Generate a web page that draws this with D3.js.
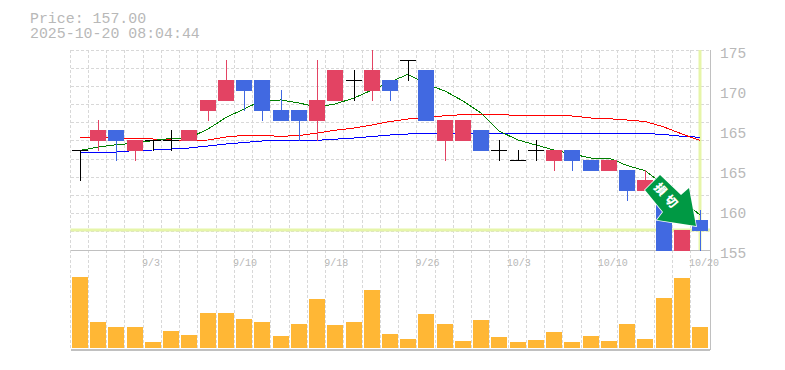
<!DOCTYPE html>
<html>
<head>
<meta charset="utf-8">
<script src="https://cdn.jsdelivr.net/npm/d3@7"></script>
<style>
  html, body { margin: 0; padding: 0; background: #fff; }
  svg { display: block; }
  text { font-family: "Liberation Mono", monospace; fill: #b8b8b8; }
</style>
</head>
<body>
<div class="chart"></div>
<script>
const WIDTH = 785
const HEIGHT = 370

const dates = ['8/28','8/29','9/1','9/2','9/3','9/4','9/5','9/8','9/9','9/10','9/11','9/12','9/16','9/17','9/18','9/19','9/22','9/24','9/25','9/26','9/29','9/30','10/1','10/2','10/3','10/6','10/7','10/8','10/9','10/10','10/14','10/15','10/16','10/17','10/20']
const dateTicks = ['9/3','9/10','9/18','9/26','10/3','10/10','10/20']

const opens  = [165,166,167,165,166,166,166,169,170,172,172,169,169,168,170,172,171,172,174,173,166,166,167,165,164,165,164,165,164,163,163,161,161,155,158]
const closes = [165,167,166,166,166,166,167,170,172,171,169,168,168,170,173,172,173,171,174,168,168,168,165,165,164,165,165,164,163,164,161,162,155,157,157]
const highs  = [165,168,167,166,166,167,167,170,174,172,172,171,169,174,173,173,175,172,174,173,168,168,167,166,165,166,165,165,164,164,163,163,161,157,159]
const lows   = [162,165,164,164,165,165,166,168,170,169,168,168,166,166,170,170,170,170,172,168,164,166,165,164,164,164,163,163,163,163,160,161,155,155,155]

const volumes = [71,26,21,21,6,17,13,35,35,29,26,12,24,49,23,26,58,14,9,34,24,7,28,11,6,8,16,6,12,7,24,9,50,70,21]

const maShort = [164.95,165.3,165.53,165.67,165.95,166.15,166.2,167.1,168.25,169.1,169.95,170,169.7,169.3,169.6,170.2,171,171.8,172.57,171.6,170.9,169.9,168.7,166.9,166,165.5,165,164.6,164.2,164.2,163.45,162.93,161.5,160,158.5]
const maMid   = [166.25,166.25,166.2,166.2,166.1,166,165.95,166,166.3,166.47,166.45,166.37,166.45,166.7,166.97,167.2,167.5,167.85,168.1,168.25,168.43,168.53,168.53,168.53,168.47,168.47,168.47,168.4,168.2,168.13,168,167.85,167.3,166.6,165.95]
const maLong  = [164.8,164.8,164.8,164.95,165,165.1,165.2,165.4,165.6,165.75,165.9,165.96,165.97,165.97,166.08,166.2,166.35,166.5,166.6,166.67,166.67,166.67,166.67,166.67,166.67,166.67,166.67,166.67,166.67,166.67,166.67,166.65,166.55,166.37,166.27]

const priceTicks = [155,159,163,167,171,175]
const priceLabels = ['155','160','165','165','170','175']
const lastPrice = 157
const titleLines = ['Price: 157.00','2025-10-20 08:04:44']
const signalLabel = '損切'

const PLOT = { left: 70.5, right: 710, top: 50, bottom: 250, volBottom: 350 }
const STEP = 18.235
const GRID_X = 35
const GRID_Y = 11
const UP = '#e34363'
const DOWN = '#4169e1'
const HILITE = '#e6f5a9'

const svg = d3.select('.chart')
  .append('svg')
  .attr('width', WIDTH)
  .attr('height', HEIGHT)

const x = d3.scaleBand()
  .domain(dates)
  .range([70.88, 70.88 + STEP * dates.length])
const y = d3.scaleLinear().domain([155, 175]).range([PLOT.bottom, PLOT.top])
const yVol = d3.scaleLinear().domain([0, 71]).range([348, 277])
const cx = d => Math.round(x(d) + x.bandwidth() / 2)

//** grid **//
const grid = svg.append('g')
  .attr('stroke', '#d8d8d8')
  .attr('stroke-dasharray', '3 2')
  .attr('shape-rendering', 'crispEdges')

const gridX = i => Math.floor(70 + i * 18.25) + 0.5
const gridY = i => Math.floor(PLOT.top + i * (PLOT.bottom - PLOT.top) / GRID_Y) + 0.5

grid.selectAll('.gv')
  .data(d3.range(GRID_X))
  .enter().append('line')
  .attr('x1', gridX)
  .attr('x2', gridX)
  .attr('y1', PLOT.top)
  .attr('y2', PLOT.volBottom)

grid.selectAll('.gh')
  .data(d3.range(GRID_Y))
  .enter().append('line')
  .attr('x1', PLOT.left)
  .attr('x2', PLOT.right)
  .attr('y1', gridY)
  .attr('y2', gridY)

//** current price / last day highlight **//
svg.append('line')
  .attr('x1', PLOT.left).attr('x2', PLOT.right)
  .attr('y1', y(lastPrice)).attr('y2', y(lastPrice))
  .attr('stroke', HILITE).attr('stroke-width', 3)
svg.append('line')
  .attr('x1', cx(dates[34])).attr('x2', cx(dates[34]))
  .attr('y1', PLOT.top).attr('y2', PLOT.bottom)
  .attr('stroke', HILITE).attr('stroke-width', 3)

//** frame **//
const frame = svg.append('g').attr('stroke', '#c0c0c0').attr('shape-rendering', 'crispEdges')
frame.append('line').attr('x1', PLOT.left).attr('x2', PLOT.right).attr('y1', PLOT.bottom).attr('y2', PLOT.bottom)
frame.append('line').attr('x1', PLOT.left).attr('x2', PLOT.right).attr('y1', PLOT.volBottom).attr('y2', PLOT.volBottom).attr('stroke-width', 2)
frame.append('line').attr('x1', PLOT.right).attr('x2', PLOT.right).attr('y1', PLOT.top).attr('y2', PLOT.volBottom)

//** moving averages **//
const line = d3.line()
  .x((d, i) => cx(dates[i]))
  .y(d => y(d))

const drawMa = (values, color) =>
  svg.append('path')
    .datum(values)
    .attr('d', line)
    .attr('fill', 'none')
    .attr('stroke', color)
    .attr('shape-rendering', 'crispEdges')

drawMa(maLong, '#0000ff')
drawMa(maMid, '#ff0000')
drawMa(maShort, '#008000')

//** candles **//
const colorOf = i => closes[i] > opens[i] ? UP : closes[i] < opens[i] ? DOWN : '#000000'

const candles = svg.append('g')
  .attr('shape-rendering', 'crispEdges')
  .selectAll('g')
  .data(dates)
  .enter().append('g')

candles.append('line')
  .attr('x1', d => cx(d) + 0.5)
  .attr('x2', d => cx(d) + 0.5)
  .attr('y1', (d, i) => y(highs[i]))
  .attr('y2', (d, i) => y(lows[i]) + 1)
  .attr('stroke', (d, i) => colorOf(i))

candles.append('rect')
  .attr('x', d => cx(d) - 8)
  .attr('width', 16)
  .attr('y', (d, i) => y(Math.max(opens[i], closes[i])))
  .attr('height', (d, i) => opens[i] === closes[i] ? 1 : y(Math.min(opens[i], closes[i])) - y(Math.max(opens[i], closes[i])) + 1)
  .attr('fill', (d, i) => colorOf(i))

//** volume **//
svg.append('g')
  .attr('shape-rendering', 'crispEdges')
  .selectAll('rect')
  .data(volumes)
  .enter().append('rect')
  .attr('x', (d, i) => cx(dates[i]) - 8)
  .attr('width', 16)
  .attr('y', d => yVol(d))
  .attr('height', d => yVol(0) - yVol(d))
  .attr('fill', '#ffb735')

//** axes **//
const yAxis = d3.axisRight(y)
  .tickValues(priceTicks)
  .tickFormat((d, i) => priceLabels[i])
  .tickSize(0)
  .tickPadding(0)

const yG = svg.append('g')
  .attr('transform', 'translate(720, 0)')
  .call(yAxis)
yG.select('.domain').remove()
yG.selectAll('text')
  .attr('dy', '7')
  .style('font-size', '14.5px')

const xAxis = d3.axisBottom(x)
  .tickValues(dateTicks)
  .tickSize(0)
  .tickPadding(0)

const xG = svg.append('g')
  .attr('transform', 'translate(0, 266)')
  .call(xAxis)
xG.select('.domain').remove()
xG.selectAll('text')
  .attr('x', -11)
  .attr('y', 0)
  .attr('dy', 0)
  .attr('text-anchor', 'start')
  .style('font-size', '10px')

//** title **//
svg.selectAll('.title')
  .data(titleLines)
  .enter().append('text')
  .attr('class', 'title')
  .attr('x', 30)
  .attr('y', (d, i) => 23 + i * 14.5)
  .style('font-size', '14.9px')
  .text(d => d)

//** signal arrow, tip sits just above the last candle **//
const signal = svg.append('g')
  .attr('transform', `translate(${cx(dates[34]) - 4}, ${y(lastPrice) - 4})`)

signal.append('path')
  .attr('d', 'M-36,-51 L-51,-36 L-33,-14 L-39,-6 L0,0 L-7,-38 L-15,-31 Z')
  .attr('fill', '#009944')
  .attr('stroke', '#fff')
  .attr('stroke-width', 1.5)
  .attr('paint-order', 'stroke')

signal.append('text')
  .attr('transform', 'translate(-29, -29) rotate(48)')
  .attr('text-anchor', 'middle')
  .attr('dy', '4')
  .style('font-family', '"Noto Sans CJK JP"')
  .style('font-weight', 900)
  .style('font-size', '12px')
  .style('letter-spacing', '4px')
  .style('fill', '#fff')
  .text(signalLabel)
</script>
</body>
</html>
